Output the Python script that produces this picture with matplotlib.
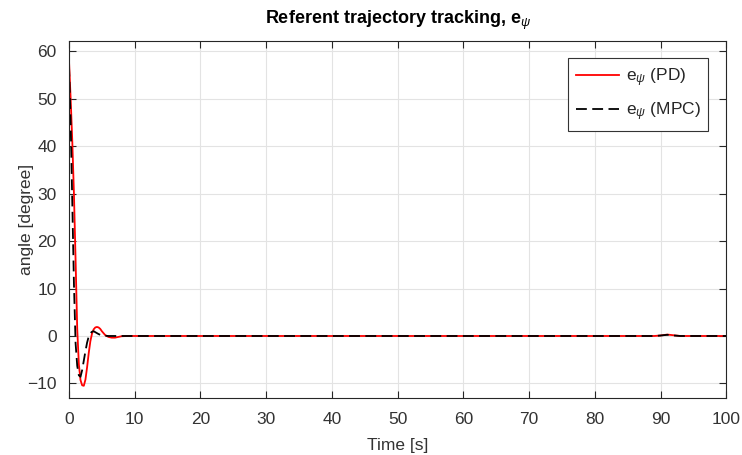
import matplotlib.pyplot as plt

plt.rcParams['font.family'] = ['Liberation Sans', 'DejaVu Sans']
plt.rcParams['mathtext.fontset'] = 'custom'
plt.rcParams['mathtext.rm'] = 'Liberation Sans'
plt.rcParams['mathtext.it'] = 'Liberation Sans:italic'

# heading error, PD controller
t_pd = [0, 0.25, 0.5, 0.75, 1.0, 1.25, 1.5, 1.75, 2.0, 2.25, 2.5, 2.75, 3.0,
        3.25, 3.5, 3.75, 4.0, 4.25, 4.5, 4.75, 5.0, 5.5, 6.0, 6.5, 7.0, 7.5,
        8.0, 9.0, 20, 40, 60, 80, 89, 90, 91, 92, 93, 100]
e_pd = [58, 50, 41, 30, 16, 1.5, -6, -9.3, -10.4, -10.5, -9.2, -6.6, -3.6,
        -1.1, 0.5, 1.4, 1.8, 1.9, 1.8, 1.5, 1.0, 0.2, -0.2, -0.35, -0.35, -0.2,
        -0.05, 0, 0, 0, 0, 0, 0, 0.1, 0.3, 0.15, 0, 0]

# heading error, MPC controller
t_mpc = [0, 0.25, 0.5, 0.75, 1.0, 1.25, 1.5, 1.75, 2.0, 2.25, 2.5, 2.75, 3.0,
         3.25, 3.5, 3.75, 4.0, 4.5, 5.0, 6.0, 20, 40, 60, 80, 89, 90, 91, 92,
         93, 100]
e_mpc = [57, 45, 28, 11, -1.5, -6.3, -8.3, -8.6, -7.2, -5.2, -3.2, -1.4, -0.1,
         0.6, 0.9, 1.0, 0.8, 0.4, 0.1, 0, 0, 0, 0, 0, 0, 0.1, 0.25, 0.1,
         0, 0]

x_ticks = list(range(0, 101, 10))
y_ticks = [-10, 0, 10, 20, 30, 40, 50, 60]

fig = plt.figure(figsize=(7.42, 4.55), dpi=100)
ax = fig.add_axes([0.093, 0.125, 0.886, 0.785])

ax.plot(t_pd, e_pd, color='red', lw=1.3, label=r'e$_\psi$ (PD)')
ax.plot(t_mpc, e_mpc, color='black', lw=1.3, ls=(0, (6, 3)),
        label=r'e$_\psi$ (MPC)')

ax.set_xlim(0, 100)
ax.set_ylim(-13.1, 62.2)
ax.set_xticks(x_ticks)
ax.set_yticks(y_ticks)
ax.grid(True, color='#e3e3e3', lw=0.8)
ax.set_axisbelow(True)
ax.tick_params(direction='in', top=True, right=True, length=5, width=0.8,
               labelsize=12.5, colors='#262626', labelcolor='#333333')
ax.tick_params(axis='x', pad=10)
ax.tick_params(axis='y', pad=9)
for s in ax.spines.values():
    s.set_color('#262626')
    s.set_linewidth(0.8)

ax.set_xlabel('Time [s]', fontsize=12.5, color='#333333', labelpad=8)
ax.set_ylabel('angle [degree]', fontsize=12.5, color='#333333', labelpad=-5)
ax.set_title(r'Referent trajectory tracking, e$_\psi$', fontsize=13,
             fontweight='bold', pad=12)

leg = ax.legend(loc='upper right', bbox_to_anchor=(0.9726, 0.952),
                borderaxespad=0, fontsize=12.5, fancybox=False,
                edgecolor='#333333', framealpha=1, handlelength=2.5,
                handletextpad=0.35, borderpad=0.45, labelspacing=0.7)
leg.get_frame().set_linewidth(0.8)
for txt in leg.get_texts():
    txt.set_color('#262626')

fig.savefig('out.png', dpi=100, facecolor='white')
